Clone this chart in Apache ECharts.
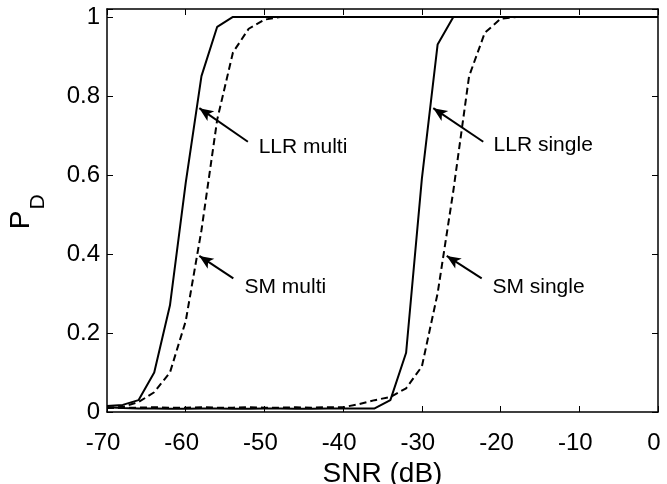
<!DOCTYPE html>
<html>
<head>
<meta charset="utf-8">
<script src="https://cdn.jsdelivr.net/npm/echarts@6/dist/echarts.min.js"></script>
<style>html,body{margin:0;padding:0;background:#fff}#c{width:667px;height:484px}</style>
</head>
<body>
<div id="c"></div>
<script>
const snr = [-70,-68,-66,-64,-62,-60,-58,-56,-54,-52,-50,-48,-46,-44,-42,-40,-38,-36,-34,-32,-30,-28,-26,-24,-22,-20,-18,-16,-14,-12,-10,-8,-6,-4,-2,0];
const llrMulti = [0.015,0.018,0.03,0.1,0.27,0.58,0.85,0.975,1,1,1,1,1,1,1,1,1,1,1,1,1,1,1,1,1,1,1,1,1,1,1,1,1,1,1,1];
const smMulti = [0.01,0.013,0.025,0.05,0.1,0.23,0.46,0.74,0.91,0.97,0.993,1,1,1,1,1,1,1,1,1,1,1,1,1,1,1,1,1,1,1,1,1,1,1,1,1];
const llrSingle = [0.012,0.01,0.009,0.009,0.008,0.008,0.009,0.009,0.008,0.008,0.009,0.009,0.008,0.008,0.009,0.009,0.009,0.009,0.03,0.15,0.59,0.93,1,1,1,1,1,1,1,1,1,1,1,1,1,1];
const smSingle = [0.01,0.011,0.011,0.012,0.011,0.011,0.012,0.011,0.011,0.012,0.011,0.011,0.012,0.011,0.012,0.012,0.02,0.03,0.038,0.06,0.115,0.3,0.56,0.85,0.96,0.995,1,1,1,1,1,1,1,1,1,1];
const xTicks = [-70,-60,-50,-40,-30,-20,-10,0];
const yTicks = [0,0.2,0.4,0.6,0.8,1];
// annotations: label, text anchor, arrow tail, arrow tip (data coordinates)
const annLabels = ['LLR multi','SM multi','LLR single','SM single'];
const annText = [[-50.8,0.671],[-52.6,0.317],[-20.95,0.676],[-21.1,0.317]];
const annTail = [[-52.1,0.684],[-53.95,0.338],[-22.2,0.684],[-22.4,0.338]];
const annTip = [[-58.27,0.769],[-58.27,0.395],[-28.55,0.769],[-26.84,0.395]];

const FONT = 'Liberation Sans, Arial, sans-serif';
const chart = echarts.init(document.getElementById('c'), null, {renderer:'canvas'});
const pair = arr => snr.map((x,i)=>[x, arr[i]]);
const axLine = {show:true, onZero:false, lineStyle:{color:'#000', width:1.5}};
const tick = {show:true, inside:true, length:6, lineStyle:{color:'#000', width:1}};
const fmtY = v => (yTicks.some(t=>Math.abs(t-v)<1e-9) ? (v===0||v===1 ? String(v) : v.toFixed(1)) : '');
const fmtX = v => (xTicks.indexOf(v)>=0 ? String(v) : '');

function mk(name, arr, dashed){
  return {name, type:'line', data:pair(arr), showSymbol:false, symbol:'none',
    lineStyle:{color:'#000', width:2, type: dashed ? [7,4] : 'solid'},
    xAxisIndex:0, yAxisIndex:0, animation:false, z:3};
}
const series = [mk('LLR multi', llrMulti, false), mk('SM multi', smMulti, true),
  mk('LLR single', llrSingle, false), mk('SM single', smSingle, true)];
series.push({type:'line', data:[], xAxisIndex:0, yAxisIndex:0, animation:false,
  markLine:{silent:true, animation:false, symbol:['none','arrow'], symbolSize:[9,14],
    lineStyle:{color:'#000', width:2, type:'solid'}, label:{show:false},
    data: annTail.map((t,i)=>[{coord:t},{coord:annTip[i]}])},
  markPoint:{silent:true, animation:false, symbol:'circle', symbolSize:1, itemStyle:{color:'rgba(0,0,0,0)'},
    label:{show:true, position:'right', distance:0, color:'#000', fontSize:21, fontFamily:FONT,
      formatter: p => p.name},
    data: annText.map((c,i)=>({name:annLabels[i], coord:c}))}
});

chart.setOption({
  animation:false,
  grid:{left:107, right:9, top:9, bottom:72, show:false, containLabel:false, outerBoundsMode:'none'},
  xAxis:[
    {type:'value', position:'bottom', min:-70, max:0, interval:10,
     axisLine:axLine, axisTick:tick,
     axisLabel:{color:'#000', fontSize:24, fontFamily:FONT, margin:19, padding:[0,8,0,0], formatter:fmtX},
     splitLine:{show:false},
     name:'SNR (dB)', nameLocation:'middle', nameGap:45,
     nameTextStyle:{color:'#000', fontSize:28, fontFamily:FONT}},
    {type:'value', position:'top', min:-70, max:0, interval:10,
     axisLine:axLine, axisTick:tick,
     axisLabel:{show:false}, splitLine:{show:false}}
  ],
  yAxis:[
    {type:'value', position:'left', min:0, max:1.02, interval:0.2,
     axisLine:axLine, axisTick:tick,
     axisLabel:{color:'#000', fontSize:24, fontFamily:FONT, margin:7, formatter:fmtY},
     splitLine:{show:false}},
    {type:'value', position:'right', min:0, max:1.02, interval:0.2,
     axisLine:axLine, axisTick:tick,
     axisLabel:{show:false}, splitLine:{show:false}}
  ],
  graphic:[
    {type:'text', x:21, y:220, rotation:Math.PI/2,
     style:{text:'P', fill:'#000', font:'28px '+FONT, textAlign:'center', textVerticalAlign:'middle'}},
    {type:'text', x:38, y:202, rotation:Math.PI/2,
     style:{text:'D', fill:'#000', font:'21px '+FONT, textAlign:'center', textVerticalAlign:'middle'}}
  ],
  series
});
</script>
</body>
</html>
